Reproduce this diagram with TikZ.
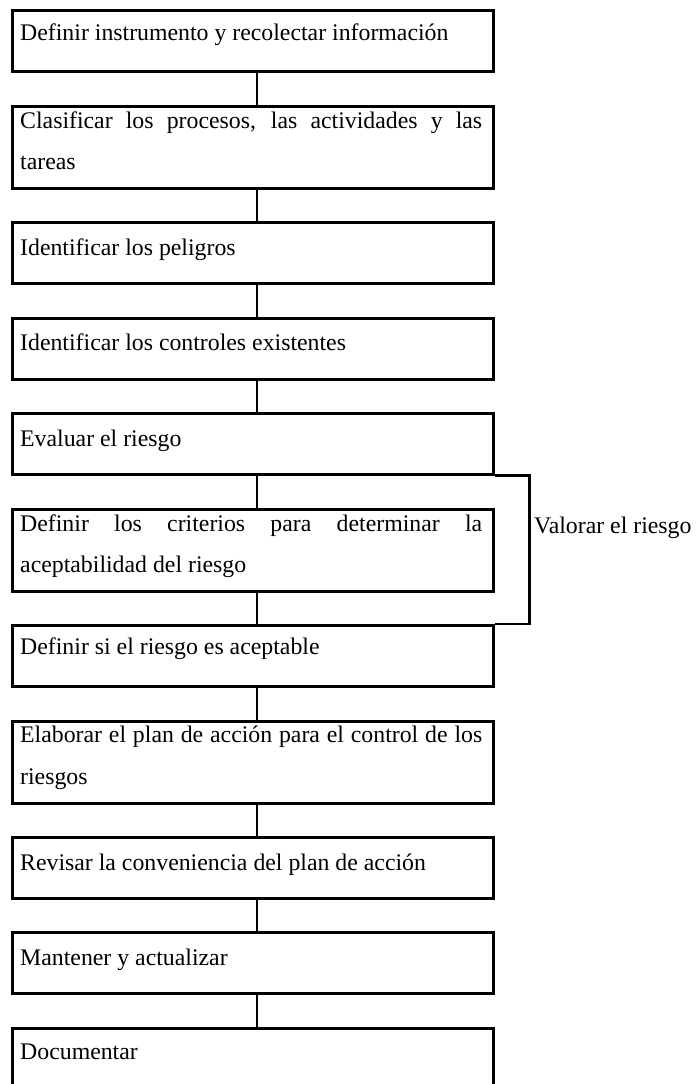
\documentclass[tikz,border=0pt]{standalone}
\usepackage{fontspec}
\setmainfont{Liberation Serif}
\begin{document}
\begin{tikzpicture}[x=1pt,y=-1pt,
  box/.style={draw, line width=2.5pt, minimum width=481pt, inner sep=0pt, anchor=north west},
  onebox/.style={box, minimum height=61pt},
  twobox/.style={box, minimum height=82pt},
  txt/.style={anchor=base west, inner sep=0pt, font=\fontsize{23.8}{41}\selectfont},
  link/.style={line width=2.5pt}]
\useasboundingbox (0,0) rectangle (699,1084);
\clip (0,0) rectangle (699,1084);
% boxes
\node[onebox] (b1) at (11,9) {};
\node[twobox] (b2) at (11,105) {};
\node[onebox] (b3) at (11,221) {};
\node[onebox] (b4) at (11,317) {};
\node[onebox] (b5) at (11,412) {};
\node[twobox] (b6) at (11,508) {};
\node[onebox] (b7) at (11,624) {};
\node[twobox] (b8) at (11,720) {};
\node[onebox] (b9) at (11,836) {};
\node[onebox] (b10) at (11,931) {};
\node[onebox] (b11) at (11,1027) {};
% texts
\node[txt] (t1) at (20,40) {Definir instrumento y recolectar información};
\node[txt] (t2a) at (20,128) {\makebox[462pt][s]{Clasificar los procesos, las actividades y las}};
\node[txt] (t2b) at (20,169) {tareas};
\node[txt] (t3) at (20,255) {Identificar los peligros};
\node[txt] (t4) at (20,350) {Identificar los controles existentes};
\node[txt] (t5) at (20,446) {Evaluar el riesgo};
\node[txt] (t6a) at (20,531) {\makebox[462pt][s]{Definir los criterios para determinar la}};
\node[txt] (t6b) at (20,572) {aceptabilidad del riesgo};
\node[txt] (t7) at (20,654) {Definir si el riesgo es aceptable};
\node[txt] (t8a) at (20,742) {\makebox[462pt][s]{Elaborar el plan de acción para el control de los}};
\node[txt] (t8b) at (20,784) {riesgos};
\node[txt] (t9) at (20,870) {Revisar la conveniencia del plan de acción};
\node[txt] (t10) at (20,965) {Mantener y actualizar};
\node[txt] (t11) at (20,1059) {Documentar};
\node[txt] (vr) at (534,533) {Valorar el riesgo};
% connectors
\foreach \a/\b in {b1/b2,b2/b3,b3/b4,b4/b5,b5/b6,b6/b7,b7/b8,b8/b9,b9/b10,b10/b11}
  \draw[link] ([xshift=4pt]\a.south) -- ([xshift=4pt]\b.north);
% bracket
\draw[link] (b5.south east) -- ++(35,0) |- (b7.north east);
\end{tikzpicture}
\end{document}
